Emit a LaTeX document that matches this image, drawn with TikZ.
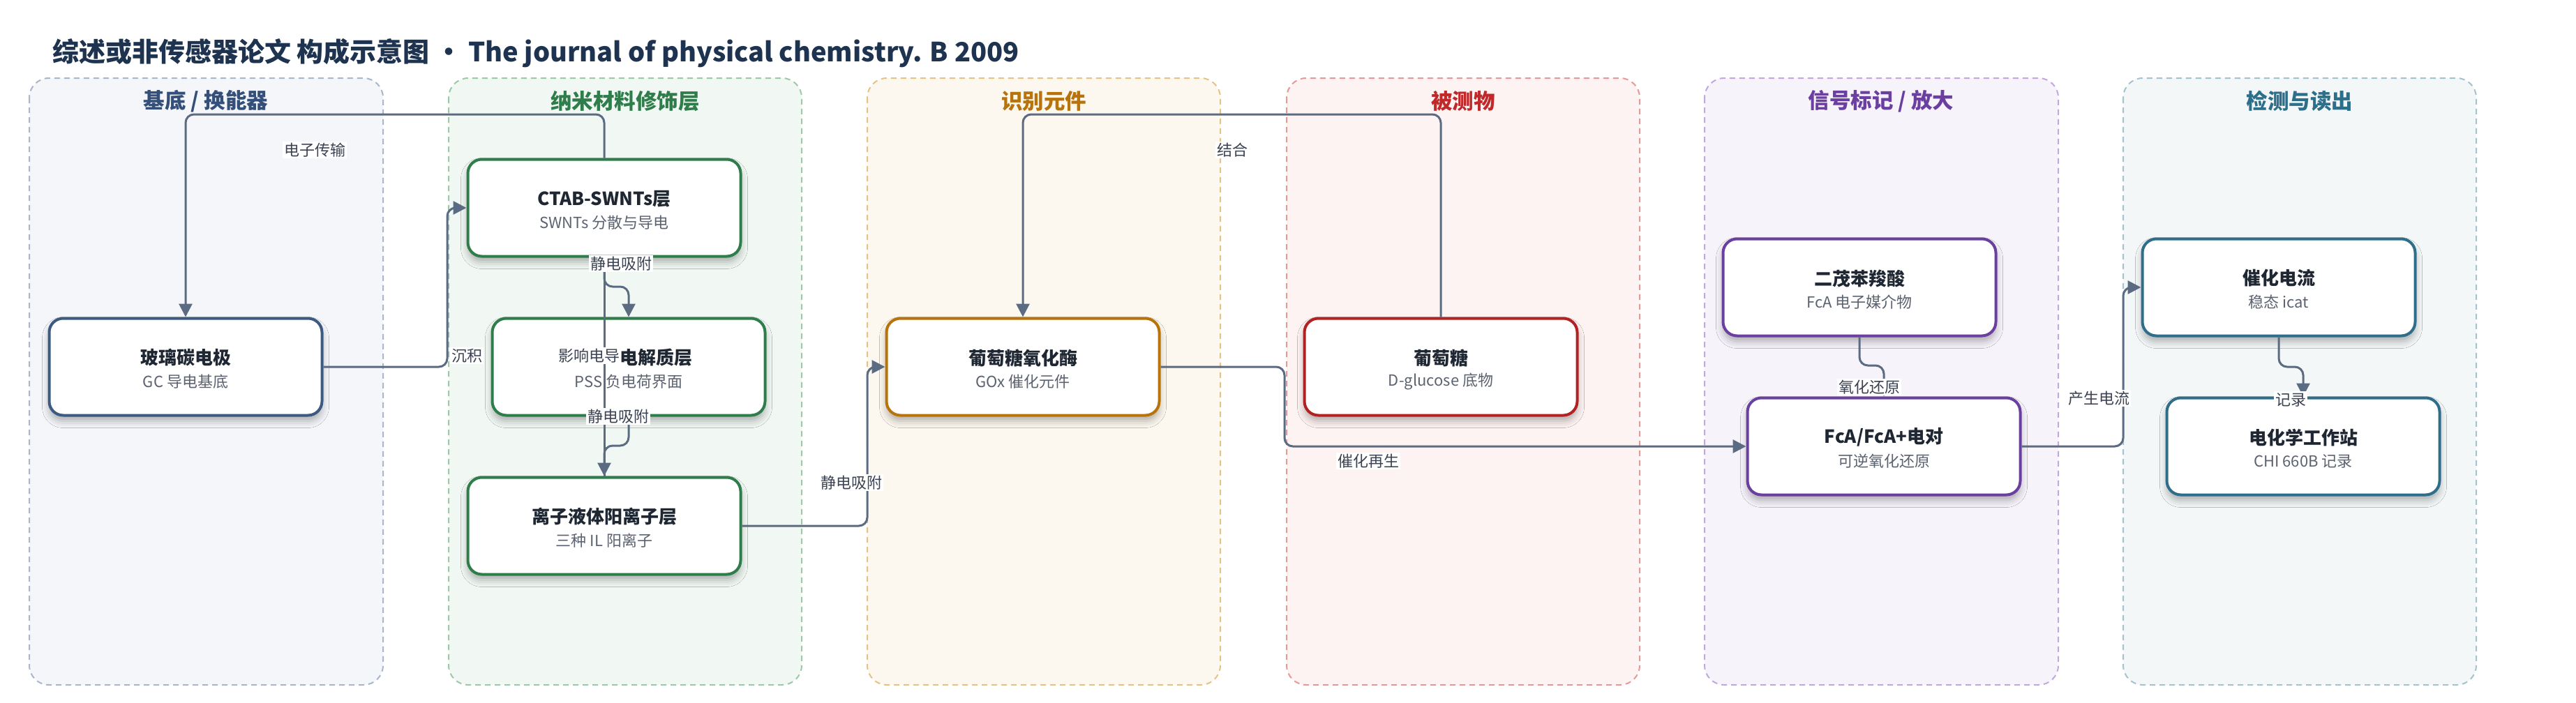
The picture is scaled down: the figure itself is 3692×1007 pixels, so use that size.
\documentclass[tikz,border=0pt]{standalone}
\usepackage{fontspec}
\setmainfont{Noto Sans CJK SC}
\usetikzlibrary{arrows.meta,shadows.blur,calc}
\definecolor{ttl}{HTML}{1E3350}
\definecolor{edgec}{HTML}{5B6B82}
\definecolor{lblc}{HTML}{3B4252}
\definecolor{subc}{HTML}{5B6270}
\definecolor{nodet}{HTML}{1F2733}
% lanes
\definecolor{laAf}{HTML}{F4F6FA}\definecolor{laAd}{HTML}{AAB6CA}\definecolor{laAt}{HTML}{34507A}
\definecolor{laBf}{HTML}{F1F8F3}\definecolor{laBd}{HTML}{9CCAA8}\definecolor{laBt}{HTML}{2E7D4A}
\definecolor{laCf}{HTML}{FDF8EF}\definecolor{laCd}{HTML}{E5C385}\definecolor{laCt}{HTML}{B8740B}
\definecolor{laDf}{HTML}{FDF3F2}\definecolor{laDd}{HTML}{E59A98}\definecolor{laDt}{HTML}{C0282A}
\definecolor{laEf}{HTML}{F7F3FB}\definecolor{laEd}{HTML}{C3A8E0}\definecolor{laEt}{HTML}{6B3FA0}
\definecolor{laFf}{HTML}{F3F7F8}\definecolor{laFd}{HTML}{A3C3CF}\definecolor{laFt}{HTML}{2D6E8A}
% node borders
\definecolor{nbA}{HTML}{3D5A80}
\definecolor{nbB}{HTML}{2E7D4A}
\definecolor{nbC}{HTML}{B8740B}
\definecolor{nbD}{HTML}{B22222}
\definecolor{nbE}{HTML}{6B3FA0}
\definecolor{nbF}{HTML}{2E6E8A}
\tikzset{
  lanebox/.style={rounded corners=28pt, line width=2pt, dash pattern=on 8pt off 6pt},
  lanetitle/.style={font=\fontsize{30.5}{34}\selectfont\bfseries, anchor=center},
  boxn/.style={rectangle, rounded corners=20pt, minimum width=391pt, minimum height=139pt,
    line width=4pt, fill=white, inner sep=0pt,
    blur shadow={shadow xshift=0pt, shadow yshift=-8pt, shadow blur radius=10pt, shadow opacity=30}},
  ntitle/.style={font=\fontsize{26}{30}\selectfont\bfseries, text=nodet, inner sep=0pt},
  nsub/.style={font=\fontsize{22}{26}\selectfont, text=subc, inner sep=0pt},
  edge/.style={draw=edgec, line width=3pt, rounded corners=12pt, -{Triangle[length=19pt,width=19pt]}},
  elabel/.style={font=\fontsize{22}{26}\selectfont, text=lblc, fill=white, inner sep=2pt}
}
\newcommand\mkbox[7][0pt]{%
  \node[boxn, draw=#5] (#2) at (#3,#4) {};
  \node[ntitle] (#2-t) at ([yshift=13pt,xshift=#1]#2.center) {#6};
  \node[nsub] (#2-s) at ([yshift=-21pt]#2.center) {#7};
}
\begin{document}
\begin{tikzpicture}[x=1pt,y=-1pt]
\useasboundingbox[fill=white] (0,0) rectangle (3692,1007);
% title
\node[anchor=west, font=\fontsize{38}{44}\selectfont\bfseries, text=ttl, inner sep=0pt] (title) at (75,76)
  {综述或非传感器论文 构成示意图 • The journal of physical chemistry. B 2009};
% lanes
\draw[lanebox, draw=laAd, fill=laAf] (42,112) rectangle (549,982);
\draw[lanebox, draw=laBd, fill=laBf] (643,112) rectangle (1149,982);
\draw[lanebox, draw=laCd, fill=laCf] (1243,112) rectangle (1749,982);
\draw[lanebox, draw=laDd, fill=laDf] (1844,112) rectangle (2350,982);
\draw[lanebox, draw=laEd, fill=laEf] (2443,112) rectangle (2950,982);
\draw[lanebox, draw=laFd, fill=laFf] (3043,112) rectangle (3549,982);
\node[lanetitle, text=laAt] (lt1) at (295,145) {基底 / 换能器};
\node[lanetitle, text=laBt] (lt2) at (896,145) {纳米材料修饰层};
\node[lanetitle, text=laCt] (lt3) at (1496,145) {识别元件};
\node[lanetitle, text=laDt] (lt4) at (2097,145) {被测物};
\node[lanetitle, text=laEt] (lt5) at (2696,145) {信号标记 / 放大};
\node[lanetitle, text=laFt] (lt6) at (3296,145) {检测与读出};
% nodes
\mkbox{glass}{266}{526}{nbA}{玻璃碳电极}{GC 导电基底}
\mkbox{ctab}{866}{298}{nbB}{CTAB-SWNTs层}{SWNTs 分散与导电}
\mkbox[39pt]{elec}{901}{526}{nbB}{电解质层}{PSS 负电荷界面}
\mkbox{il}{866}{754}{nbB}{离子液体阳离子层}{三种 IL 阳离子}
\mkbox{gox}{1466}{526}{nbC}{葡萄糖氧化酶}{GOx 催化元件}
\mkbox{glu}{2065}{526}{nbD}{葡萄糖}{D-glucose 底物}
\mkbox{fca}{2665}{412}{nbE}{二茂苯羧酸}{FcA 电子媒介物}
\mkbox{fcp}{2700}{640}{nbE}{FcA/FcA+电对}{可逆氧化还原}
\mkbox{cur}{3266}{412}{nbF}{催化电流}{稳态 icat}
\mkbox{chi}{3301}{640}{nbF}{电化学工作站}{CHI 660B 记录}
% routing coordinates
\coordinate (yA) at (0,164);
\coordinate (xB) at (641,0);
\coordinate (yC) at (0,411);
\coordinate (yD) at (0,639);
\coordinate (xE) at (1243,0);
\coordinate (xF) at (1841,0);
\coordinate (yG) at (0,524);
\coordinate (xH) at (3043,0);
\coordinate (yI) at (0,526);
% edges
\draw[edge] (ctab.north) -- (ctab.north |- yA) -- (glass.north |- yA) -- (glass.north);
\draw[edge] (glass.east) -- (glass.east -| xB) -- (ctab.west -| xB) -- (ctab.west);
\draw[edge] (ctab.south) -- (ctab.south |- yC) -- (elec.north |- yC) -- (elec.north);
\draw[edge] (elec.south) -- (elec.south |- yD) -- (il.north |- yD) -- (il.north);
\draw[edge] (il.north) -- (ctab.south);
\draw[edge] (il.east) -- (il.east -| xE) -- (gox.west -| xE) -- (gox.west);
\draw[edge] (glu.north) -- (glu.north |- yA) -- (gox.north |- yA) -- (gox.north);
\draw[edge] (gox.east) -- (gox.east -| xF) -- (fcp.west -| xF) -- (fcp.west);
\draw[edge] (fca.south) -- (fca.south |- yG) -- (fcp.north |- yG) -- (fcp.north);
\draw[edge] (fcp.east) -- (fcp.east -| xH) -- (cur.west -| xH) -- (cur.west);
\draw[edge] (cur.south) -- (cur.south |- yI) -- (chi.north |- yI) -- (chi.north);
% edge labels
\node[elabel] (l1) at (451,215) {电子传输};
\node[elabel] (l2) at (669,510) {沉积};
\node[elabel] (l3) at (890,378) {静电吸附};
\node[elabel] (l4) at (886,597) {静电吸附};
\node[elabel] (l5) at (844,510) {影响电导};
\node[elabel] (l6) at (1220,692) {静电吸附};
\node[elabel] (l7) at (1766,215) {结合};
\node[elabel] (l8) at (1961,661) {催化再生};
\node[elabel] (l9) at (2679,555) {氧化还原};
\node[elabel] (l10) at (3008,571) {产生电流};
\node[elabel] (l11) at (3283,573) {记录};
\end{tikzpicture}
\end{document}
